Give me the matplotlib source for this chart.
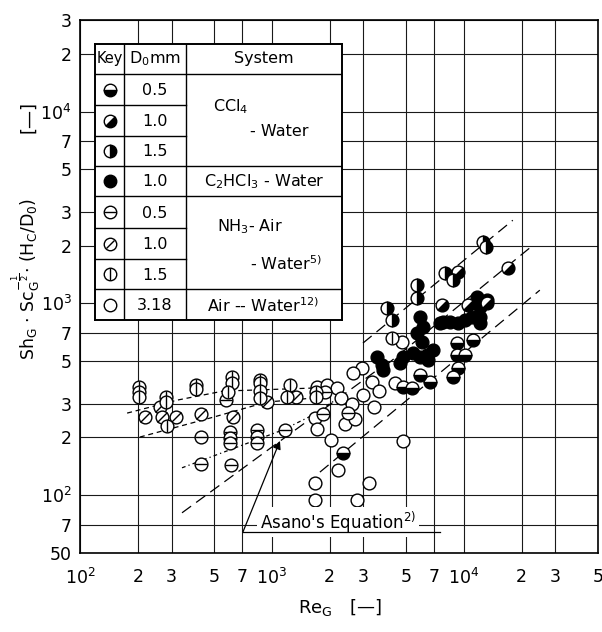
import matplotlib
matplotlib.use('Agg')
import matplotlib.pyplot as plt
from matplotlib.markers import MarkerStyle
from matplotlib.transforms import Affine2D

plt.rcParams['font.family'] = ['DejaVu Sans']
plt.rcParams['mathtext.default'] = 'regular'

# ---------------- axis ticks ----------------
x_ticks = [1e2, 2e2, 3e2, 5e2, 7e2, 1e3, 2e3, 3e3, 5e3, 7e3, 1e4, 2e4, 3e4, 5e4]
x_tick_labels = ['10$^2$', '2', '3', '5', '7', '10$^3$', '2', '3', '5', '7', '10$^4$', '2', '3', '5']
y_ticks = [50, 70, 1e2, 2e2, 3e2, 5e2, 7e2, 1e3, 2e3, 3e3, 5e3, 7e3, 1e4, 2e4, 3e4]
y_tick_labels = ['50', '7', '10$^2$', '2', '3', '5', '7', '10$^3$', '2', '3', '5', '7', '10$^4$', '2', '3']

# ---------------- data series ----------------
# CCl4 - Water, D0 = 0.5 mm
ccl4_05_re = [2340, 9200, 11140, 9200, 10120, 9310, 8770, 4810, 5360, 6650, 5900]
ccl4_05_y = [166, 621, 643, 540, 540, 460, 413, 366, 362, 389, 423]
# CCl4 - Water, D0 = 1.0 mm
ccl4_10_re = [16940, 9310, 7680, 13180, 10500]
ccl4_10_y = [1525, 1454, 979, 1010, 980]
# CCl4 - Water, D0 = 1.5 mm
ccl4_15_re = [12560, 13030, 7960, 8770, 5690, 5690, 3970, 4220]
ccl4_15_y = [2084, 1962, 1437, 1321, 1244, 1065, 944, 818]
# C2HCl3 - Water, D0 = 1.0 mm
c2hcl3_re = [11690, 12110, 12110, 12110, 5900, 6110, 5690, 6030, 7500, 7780, 8450, 9310,
             10120, 10970, 6900, 6410, 6530, 5900, 4810, 4640, 3740, 3780, 3520, 5420, 13180]
c2hcl3_y = [1080, 955, 848, 789, 848, 752, 700, 628, 789, 798, 798, 789,
            818, 848, 570, 540, 506, 525, 525, 488, 478, 449, 525, 550, 1040]
# NH3 - Air - Water, D0 = 0.5 mm
nh3_05_re = [426, 426, 575, 604, 604, 604, 611, 835, 835, 835, 1170, 1888, 1845, 2500]
nh3_05_y = [201, 146, 313, 213, 199, 187, 144, 219, 201, 187, 219, 345, 265, 268]
# NH3 - Air - Water, D0 = 1.0 mm
nh3_10_re = [218, 262, 268, 316, 426, 627, 942, 1334]
nh3_10_y = [255, 290, 255, 255, 265, 255, 306, 325]
# NH3 - Air - Water, D0 = 1.5 mm
nh3_15_re = [203, 203, 203, 281, 281, 284, 402, 402, 619, 619, 590, 866, 866, 866, 866,
             1241, 1197, 1694, 1694, 4200]
nh3_15_y = [366, 345, 325, 325, 306, 229, 375, 360, 413, 384, 344, 400, 384, 349, 321,
            375, 325, 345, 325, 660]
# Air - Water, D0 = 3.18 mm
air_re = [1714, 1933, 2181, 1675, 1714, 1675, 1675, 2208, 2773, 3200, 2028, 4810, 2944,
          2642, 3318, 4372, 4755, 2300, 2600, 3000, 3600, 2400, 2700, 3400]
air_y = [366, 375, 362, 252, 221, 116, 94, 135, 95, 116, 194, 192, 460,
         433, 389, 384, 628, 320, 300, 335, 350, 235, 250, 290]

# correlation lines
asano_re = [340, 3650]
asano_y = [81, 460]
line1_re = [2980, 17990]
line1_y = [621, 2712]
line2_re = [3880, 22590]
line2_y = [471, 1985]
line3_re = [1778, 24880]
line3_y = [132, 1172]
curveA_re = [176, 320, 556, 1636]
curveA_y = [268, 313, 349, 362]
curveB_re = [205, 493, 942, 1636]
curveB_y = [201, 255, 306, 321]
curveC_re = [340, 1140, 1636, 2260]
curveC_y = [139, 219, 262, 325]

# table
key_kinds = ['ccl4_05', 'ccl4_10', 'ccl4_15', 'c2hcl3', 'nh3_05', 'nh3_10', 'nh3_15', 'air']
key_d0 = ['0.5', '1.0', '1.5', '1.0', '0.5', '1.0', '1.5', '3.18']

MS = 9.2
EW = 1.0


def draw_points(ax, xs, ys, kind, ms=MS, z=5):
    base = dict(linestyle='none', markersize=ms, markeredgecolor='black',
                markeredgewidth=EW, zorder=z, clip_on=False)
    for x, y in zip(xs, ys):
        if kind == 'ccl4_05':
            ax.plot([x], [y], marker=MarkerStyle('o', fillstyle='bottom'),
                    markerfacecolor='black', markerfacecoloralt='white', **base)
        elif kind == 'ccl4_10':
            ms_ = MarkerStyle('o', fillstyle='bottom', transform=Affine2D().rotate_deg(45))
            ax.plot([x], [y], marker=ms_, markerfacecolor='black',
                    markerfacecoloralt='white', **base)
        elif kind == 'ccl4_15':
            ax.plot([x], [y], marker=MarkerStyle('o', fillstyle='right'),
                    markerfacecolor='black', markerfacecoloralt='white', **base)
        elif kind == 'c2hcl3':
            ax.plot([x], [y], marker='o', markerfacecolor='black', **base)
        else:
            ax.plot([x], [y], marker='o', markerfacecolor='white', **base)
            if kind == 'nh3_05':
                ax.plot([x], [y], marker='_', color='black', **base)
            elif kind == 'nh3_10':
                ax.plot([x], [y], marker=MarkerStyle('_', transform=Affine2D().rotate_deg(45)),
                        color='black', **base)
            elif kind == 'nh3_15':
                ax.plot([x], [y], marker='|', color='black', **base)


fig = plt.figure(figsize=(6.02, 6.32), dpi=100)
ax = fig.add_axes([80 / 602, 79 / 632, 518 / 602, 533 / 632])
ax.set_xscale('log')
ax.set_yscale('log')
ax.set_xlim(100, 50000)
ax.set_ylim(50, 30000)
ax.set_xticks(x_ticks)
ax.set_xticklabels(x_tick_labels, fontsize=12.5)
ax.set_yticks(y_ticks)
ax.set_yticklabels(y_tick_labels, fontsize=12.5)
ax.minorticks_off()
ax.tick_params(axis='x', length=0, pad=11)
ax.tick_params(axis='y', length=0, pad=6)
ax.grid(True, color='#1a1a1a', linewidth=0.8, zorder=0)
ax.set_axisbelow(True)
for sp in ax.spines.values():
    sp.set_linewidth(1.2)

# lines
lw = 0.9
ax.plot(asano_re, asano_y, color='black', lw=lw, dashes=(9, 5), zorder=3)
ax.plot(line1_re, line1_y, color='black', lw=lw, dashes=(9, 5), zorder=3)
ax.plot(line2_re, line2_y, color='black', lw=lw, dashes=(9, 5), zorder=3)
ax.plot(line3_re, line3_y, color='black', lw=lw, dashes=(9, 5), zorder=3)
ax.plot(curveA_re, curveA_y, color='black', lw=lw, dashes=(4, 3), zorder=3)
ax.plot(curveB_re, curveB_y, color='black', lw=lw, dashes=(4, 3), zorder=3)
ax.plot(curveC_re, curveC_y, color='black', lw=lw, dashes=(3, 2.5, 1, 2.5), zorder=3)

# points
draw_points(ax, air_re, air_y, 'air')
draw_points(ax, nh3_05_re, nh3_05_y, 'nh3_05')
draw_points(ax, nh3_10_re, nh3_10_y, 'nh3_10')
draw_points(ax, nh3_15_re, nh3_15_y, 'nh3_15')
draw_points(ax, c2hcl3_re, c2hcl3_y, 'c2hcl3')
draw_points(ax, ccl4_05_re, ccl4_05_y, 'ccl4_05')
draw_points(ax, ccl4_10_re, ccl4_10_y, 'ccl4_10')
draw_points(ax, ccl4_15_re, ccl4_15_y, 'ccl4_15')

# Asano annotation
ax.text(866, 72.5, "Asano's Equation$^{2)}$", fontsize=12, ha='left', va='center',
        bbox=dict(facecolor='white', edgecolor='none', pad=2), zorder=6)
ax.plot([706, 7500], [64.3, 64.3], color='black', lw=0.9, zorder=7)
ax.annotate('', xy=(1101, 192), xytext=(706, 64.3),
            arrowprops=dict(arrowstyle='-|>', color='black', lw=0.9,
                            mutation_scale=12, shrinkA=0, shrinkB=0), zorder=7)

# axis labels
fig.text(26 / 602, 1 - 279 / 632,
         'Sh$_G$ $\\cdot$ Sc$_G^{-\\frac{1}{2}}$$\\cdot$ (H$_C$/D$_0$)',
         rotation=90, ha='center', va='center', fontsize=12.5)
fig.text(28 / 602, 1 - 117 / 632, '[—]', rotation=90, ha='center', va='center', fontsize=13)
fig.text(340 / 602, 1 - 607 / 632, 'Re$_G$   [—]', ha='center', va='center', fontsize=13)

# ---------------- key table ----------------
tx0, tx1, ty0, ty1 = 95, 342, 44, 320
tab = fig.add_axes([tx0 / 602, 1 - ty1 / 632, (tx1 - tx0) / 602, (ty1 - ty0) / 632])
tab.set_xlim(tx0, tx1)
tab.set_ylim(ty1, ty0)
tab.set_xticks([])
tab.set_yticks([])
for sp in tab.spines.values():
    sp.set_linewidth(1.4)
tab.set_facecolor('white')
c1, c2 = 124, 186
rows = [44, 74, 105, 136, 166, 196, 228, 259, 289, 320]
tlw = 1.0
tab.plot([c1, c1], [ty0, ty1], color='black', lw=tlw)
tab.plot([c2, c2], [ty0, ty1], color='black', lw=tlw)
full_rows = {74, 166, 196, 289}
for r in rows[1:-1]:
    if r in full_rows:
        tab.plot([tx0, tx1], [r, r], color='black', lw=tlw)
    else:
        tab.plot([tx0, c2], [r, r], color='black', lw=tlw)

tab.text((tx0 + c1) / 2, 59, 'Key', ha='center', va='center', fontsize=10.5)
tab.text((c1 + c2) / 2, 59, 'D$_0$mm', ha='center', va='center', fontsize=11.5)
tab.text((c2 + tx1) / 2, 59, 'System', ha='center', va='center', fontsize=11.5)
for i, (kind, d) in enumerate(zip(key_kinds, key_d0)):
    yc = (rows[i + 1] + rows[i + 2]) / 2
    draw_points(tab, [(tx0 + c1) / 2], [yc], kind, ms=9.0, z=5)
    tab.text((c1 + c2) / 2, yc + 1, d, ha='center', va='center', fontsize=11.5)

tab.text(213, 107, 'CCl$_4$', ha='left', va='center', fontsize=11.5)
tab.text(250, 131, '- Water', ha='left', va='center', fontsize=11.5)
tab.text((c2 + tx1) / 2, 182, 'C$_2$HCl$_3$ - Water', ha='center', va='center', fontsize=11.5)
tab.text(217, 227, 'NH$_3$- Air', ha='left', va='center', fontsize=11.5)
tab.text(250, 264, '- Water$^{5)}$', ha='left', va='center', fontsize=11.5)
tab.text(207, 306, 'Air -- Water$^{12)}$', ha='left', va='center', fontsize=11.5)

fig.savefig('out.png', dpi=100)
